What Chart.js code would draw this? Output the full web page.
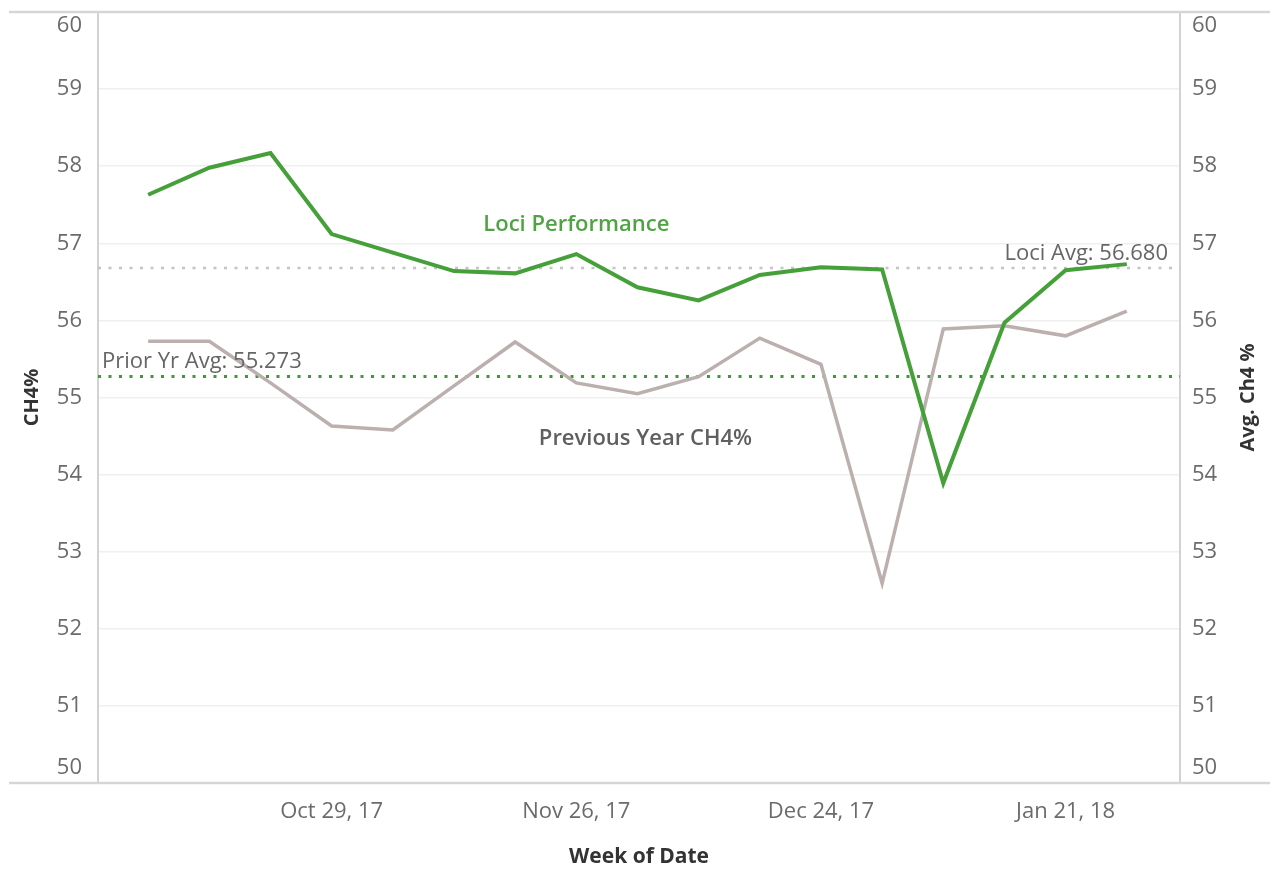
<!DOCTYPE html>
<html lang="en">
<head>
<meta charset="UTF-8">
<title>CH4% by Week</title>
<script src="https://cdn.jsdelivr.net/npm/chart.js"></script>
<style>
    html, body {
      margin: 0;
      padding: 0;
      background: #fff;
    }
    #wrap {
      width: 1278px;
      height: 870px;
    }
</style>
</head>
<body>
<div id="wrap"><canvas id="ch4Chart" width="1278" height="870"></canvas></div>

<script>
    // weekly data
    const weeks = ['Oct 8, 17', 'Oct 15, 17', 'Oct 22, 17', 'Oct 29, 17', 'Nov 5, 17', 'Nov 12, 17',
      'Nov 19, 17', 'Nov 26, 17', 'Dec 3, 17', 'Dec 10, 17', 'Dec 17, 17', 'Dec 24, 17',
      'Dec 31, 17', 'Jan 7, 18', 'Jan 14, 18', 'Jan 21, 18', 'Jan 28, 18'];
    const lociCh4 = [57.63, 57.98, 58.17, 57.12, 56.88, 56.64, 56.61, 56.86, 56.43, 56.26,
      56.59, 56.69, 56.66, 53.89, 55.97, 56.65, 56.73];
    const prevYearCh4 = [55.73, 55.73, 55.19, 54.63, 54.58, 55.15, 55.72, 55.19, 55.05, 55.27,
      55.77, 55.43, 52.59, 55.89, 55.93, 55.80, 56.12];
    const tickWeeks = ['Oct 29, 17', 'Nov 26, 17', 'Dec 24, 17', 'Jan 21, 18'];
    const lociAvg = 56.680;
    const priorYrAvg = 55.273;
    const yMin = 50;
    const yMax = 60;

    const X_MIN = -0.82;
    const X_MAX = 16.87;
    const FONT = '"Open Sans", "Noto Sans", sans-serif';
    const TICK_COLOR = '#6b6b6b';

    const toPoints = (vals) => vals.map((v, i) => ({ x: i, y: v }));
    const flatLine = (v) => [{ x: X_MIN, y: v }, { x: X_MAX, y: v }];
    // end labels (50 / 60) are drawn pulled inside the frame, like Tableau does
    const innerTick = (v) => (v === yMin || v === yMax) ? '' : v;
    const fixYAxis = (scale) => {
      scale.width = 98;
      scale.paddingTop = 0;
      scale.paddingBottom = 0;
    };

    const decorPlugin = {
      id: 'decor',
      afterDraw(chart) {
        const { ctx, chartArea: a, width } = chart;
        const xs = chart.scales.x;
        const ys = chart.scales.y;
        ctx.save();
        ctx.strokeStyle = '#d6d6d6';
        ctx.lineWidth = 2.5;
        ctx.beginPath();
        ctx.moveTo(9, a.top); ctx.lineTo(width - 8, a.top);
        ctx.moveTo(9, a.bottom); ctx.lineTo(width - 8, a.bottom);
        ctx.stroke();

        // clamped end tick labels
        ctx.fillStyle = TICK_COLOR;
        ctx.font = '22px ' + FONT;
        ctx.textBaseline = 'middle';
        ctx.textAlign = 'right';
        ctx.fillText(String(yMax), a.left - 16, a.top + 14);
        ctx.fillText(String(yMin), a.left - 16, a.bottom - 15);
        ctx.textAlign = 'left';
        ctx.fillText(String(yMax), a.right + 12, a.top + 14);
        ctx.fillText(String(yMin), a.right + 12, a.bottom - 15);

        ctx.textAlign = 'center';
        ctx.fillStyle = '#4ea443';
        ctx.font = '600 22px ' + FONT;
        ctx.fillText('Loci Performance', xs.getPixelForValue(7), ys.getPixelForValue(57.24));

        ctx.fillStyle = '#5f5f5f';
        ctx.font = '600 22px ' + FONT;
        ctx.fillText('Previous Year CH4%', xs.getPixelForValue(8.13), ys.getPixelForValue(54.47));

        ctx.font = '22px ' + FONT;
        ctx.fillStyle = '#666';
        ctx.textBaseline = 'bottom';
        ctx.textAlign = 'right';
        ctx.fillText('Loci Avg: ' + lociAvg.toFixed(3), a.right - 12, ys.getPixelForValue(lociAvg) - 3);
        ctx.textAlign = 'left';
        ctx.fillText('Prior Yr Avg: ' + priorYrAvg.toFixed(3), a.left + 4, ys.getPixelForValue(priorYrAvg) - 4);

        // right axis title reads bottom-to-top like the left one
        ctx.fillStyle = '#333';
        ctx.font = 'bold 20px ' + FONT;
        ctx.textAlign = 'center';
        ctx.textBaseline = 'middle';
        ctx.translate(1248, (a.top + a.bottom) / 2);
        ctx.rotate(-Math.PI / 2);
        ctx.fillText('Avg. Ch4 %', 0, 0);
        ctx.restore();
      }
    };

    const yTicks = {
      stepSize: 1,
      color: TICK_COLOR,
      font: { family: FONT, size: 22 },
      callback: innerTick
    };

    new Chart(document.getElementById('ch4Chart'), {
      type: 'line',
      data: {
        datasets: [
          {
            label: 'Loci Performance',
            data: toPoints(lociCh4),
            borderColor: '#46a03a',
            borderWidth: 4,
            pointRadius: 0,
            tension: 0,
            order: 1
          },
          {
            label: 'Previous Year CH4%',
            data: toPoints(prevYearCh4),
            borderColor: '#bbb0ae',
            borderWidth: 3.5,
            pointRadius: 0,
            tension: 0,
            order: 2
          },
          {
            label: 'Loci Avg',
            data: flatLine(lociAvg),
            borderColor: '#c4c4c4',
            borderWidth: 2.5,
            borderDash: [3, 7.5],
            pointRadius: 0,
            order: 3
          },
          {
            label: 'Prior Yr Avg',
            data: flatLine(priorYrAvg),
            borderColor: '#3d9b34',
            borderWidth: 3,
            borderDash: [3, 7.5],
            pointRadius: 0,
            order: 3
          }
        ]
      },
      options: {
        responsive: false,
        animation: false,
        layout: { padding: { top: 12, left: 0, right: 0, bottom: 0 } },
        plugins: {
          legend: { display: false },
          tooltip: { enabled: false }
        },
        scales: {
          x: {
            type: 'linear',
            min: X_MIN,
            max: X_MAX,
            grid: { display: false, drawTicks: false },
            border: { display: false },
            afterBuildTicks: (scale) => {
              scale.ticks = tickWeeks.map(w => ({ value: weeks.indexOf(w) }));
            },
            afterFit: (scale) => { scale.height = 87; },
            ticks: {
              padding: 16,
              maxRotation: 0,
              color: TICK_COLOR,
              font: { family: FONT, size: 22 },
              callback: (v) => weeks[v]
            },
            title: {
              display: true,
              text: 'Week of Date',
              color: '#333',
              font: { family: FONT, size: 21, weight: 'bold' },
              padding: { top: 0, bottom: 0 }
            }
          },
          y: {
            position: 'left',
            min: yMin,
            max: yMax,
            ticks: { ...yTicks, padding: 16 },
            grid: { color: '#efefef', lineWidth: 1.5, drawTicks: false },
            border: { color: '#d2d2d2', width: 2 },
            afterFit: fixYAxis,
            title: {
              display: true,
              text: 'CH4%',
              color: '#333',
              font: { family: FONT, size: 20, weight: 'bold' },
              padding: { top: 20, bottom: 0 }
            }
          },
          y2: {
            position: 'right',
            min: yMin,
            max: yMax,
            ticks: { ...yTicks, padding: 12 },
            grid: { display: false, drawTicks: false },
            border: { color: '#d2d2d2', width: 2 },
            afterFit: fixYAxis
          }
        }
      },
      plugins: [decorPlugin]
    });
</script>
</body>
</html>
